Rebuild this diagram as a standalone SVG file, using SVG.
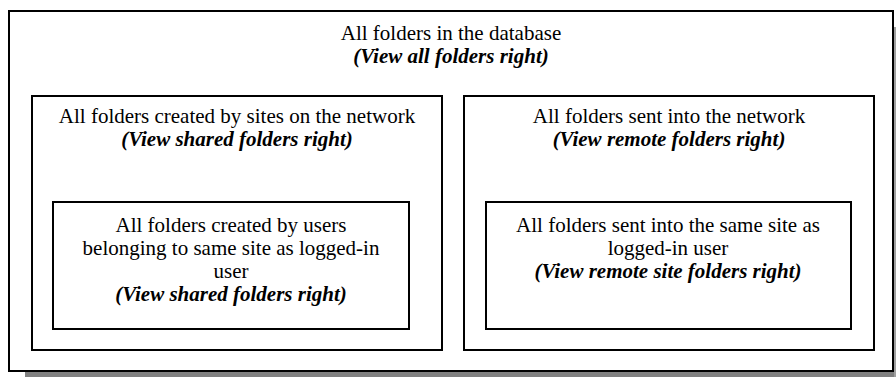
<svg xmlns="http://www.w3.org/2000/svg" width="896" height="377" viewBox="0 0 896 377">
<style>
.box{fill:#fff;stroke:#000;stroke-width:2}
.t{font-family:"Liberation Serif","Times New Roman",serif;font-size:21px;fill:#000;text-anchor:middle}
.i{font-style:italic;font-weight:bold}
</style>
<rect x="0" y="0" width="896" height="377" fill="#fff"/>
<g id="shadow">
<rect x="25" y="372" width="871" height="5" fill="#808080"/>
<rect x="894" y="27" width="2" height="350" fill="#a0a0a0"/>
</g>
<g id="all">
<rect class="box" x="9" y="11" width="884" height="360"/>
<text class="t" x="451" y="40">All folders in the database</text>
<text class="t i" x="451" y="63">(View all folders right)</text>
</g>
<g id="shared">
<rect class="box" x="32" y="96" width="410" height="254"/>
<text class="t" x="237" y="123">All folders created by sites on the network</text>
<text class="t i" x="237" y="146">(View shared folders right)</text>
</g>
<g id="remote">
<rect class="box" x="464" y="96" width="410" height="254"/>
<text class="t" x="669" y="123">All folders sent into the network</text>
<text class="t i" x="669" y="146">(View remote folders right)</text>
</g>
<g id="shared-site">
<rect class="box" x="53" y="202" width="356" height="127"/>
<text class="t" x="231" y="232">All folders created by users</text>
<text class="t" x="231" y="255">belonging to same site as logged-in</text>
<text class="t" x="231" y="278">user</text>
<text class="t i" x="231" y="301">(View shared folders right)</text>
</g>
<g id="remote-site">
<rect class="box" x="486" y="202" width="365" height="127"/>
<text class="t" x="668" y="232">All folders sent into the same site as</text>
<text class="t" x="668" y="255">logged-in user</text>
<text class="t i" x="668" y="278">(View remote site folders right)</text>
</g>
<g id="connectors"/>
</svg>
